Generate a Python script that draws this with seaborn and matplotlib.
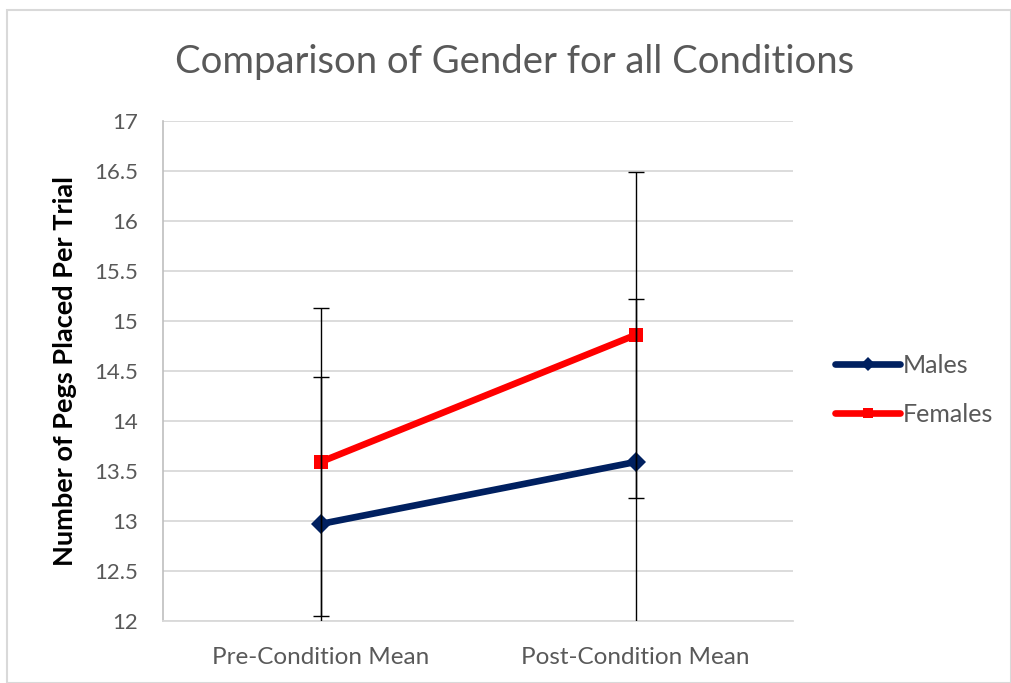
import matplotlib
matplotlib.use("Agg")
import matplotlib.pyplot as plt
import seaborn as sns
import pandas as pd
from matplotlib.patches import Rectangle

categories = ["Pre-Condition Mean", "Post-Condition Mean"]
males = [12.97, 13.59]
females = [13.59, 14.86]
males_err = [1.47, 1.63]
females_err = [1.54, 1.63]
title = "Comparison of Gender for all Conditions"
ylabel = "Number of Pegs Placed Per Trial"
yticks = [12, 12.5, 13, 13.5, 14, 14.5, 15, 15.5, 16, 16.5, 17]

sns.set_theme(style="white")
plt.rcParams['font.family'] = ['Lato', 'DejaVu Sans']

df = pd.DataFrame({
    "Condition": categories * 2,
    "Value": males + females,
    "Group": ["Males"] * 2 + ["Females"] * 2,
})

fig = plt.figure(figsize=(10.11, 6.83), dpi=100)
ax = fig.add_axes([163 / 1011, 62 / 683, 630 / 1011, 500 / 683])

palette = {"Males": "#002060", "Females": "#FF0000"}
sns.lineplot(data=df, x="Condition", y="Value", hue="Group", style="Group",
             markers={"Males": "D", "Females": "s"}, dashes=False,
             palette=palette, linewidth=4.8, markersize=10,
             markeredgewidth=0, ax=ax, sort=False, zorder=3)

xpos = list(range(len(categories)))
ax.errorbar(xpos, males, yerr=males_err, fmt="none", ecolor="black",
            elinewidth=1, capsize=6, capthick=1, zorder=4)
ax.errorbar(xpos, females, yerr=females_err, fmt="none", ecolor="black",
            elinewidth=1, capsize=6, capthick=1, zorder=4)

ax.set_xlim(-0.5, 1.5)
ax.set_ylim(12, 17)
ax.set_yticks(yticks)
ax.set_yticklabels([f"{t:g}" for t in yticks])
ax.yaxis.grid(True, color="#d9d9d9", linewidth=1.3)
ax.set_axisbelow(True)
for s in ["top", "right"]:
    ax.spines[s].set_visible(False)
ax.spines["left"].set_color("#bfbfbf")
ax.spines["bottom"].set_color("#d9d9d9")
ax.spines["left"].set_linewidth(1.2)
ax.spines["bottom"].set_linewidth(1.3)
ax.tick_params(axis="both", length=0, labelcolor="#595959")
ax.tick_params(axis="y", pad=18, labelsize=16)
ax.tick_params(axis="x", pad=19, labelsize=17.5)
ax.set_xlabel("")
ax.set_ylabel(ylabel, fontsize=19.5, fontweight="bold", color="black", labelpad=12)

fig.text(515 / 1011, 1 - 62 / 683, title, fontsize=27.5, color="#595959",
         ha="center", va="center")

handles, labels = ax.get_legend_handles_labels()
ax.legend(handles, labels, loc="center left", bbox_to_anchor=(1.067, 0.462),
          frameon=False, fontsize=18, handlelength=2.6, handletextpad=0.1,
          labelspacing=1.05, labelcolor="#595959", borderpad=0,
          borderaxespad=0, markerscale=0.7)

fig.patches.append(Rectangle((7 / 1011, 0), (1011 - 7) / 1011, 1 - 10 / 683,
                             transform=fig.transFigure, fill=False,
                             edgecolor="#d9d9d9", linewidth=1.5))

fig.savefig("out.png", dpi=100)
